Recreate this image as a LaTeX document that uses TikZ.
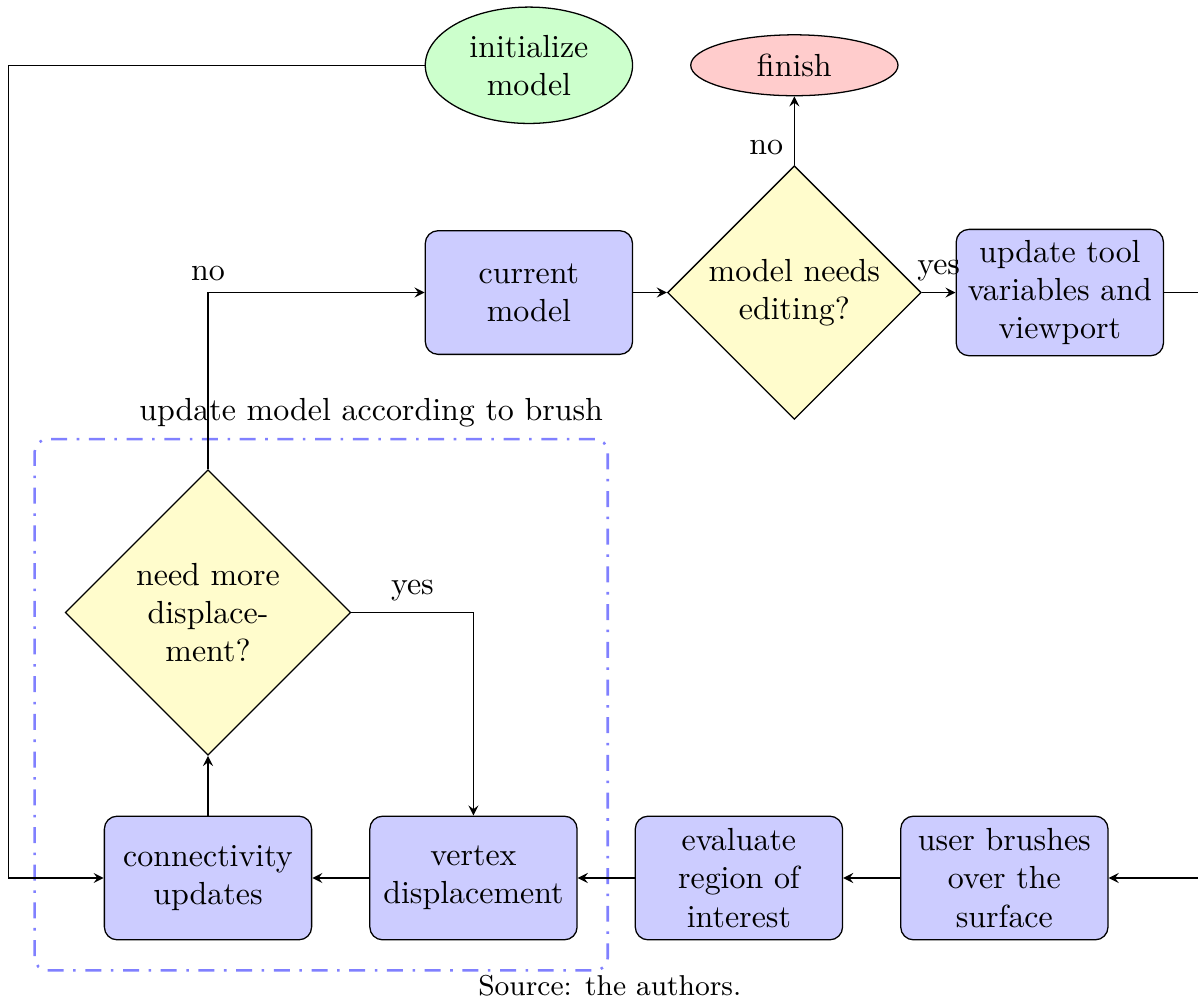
\documentclass[tikz,border=0pt]{standalone}
\usepackage{tikz}
\usetikzlibrary{shapes.geometric, positioning, fit}
\tikzset{
	block/.style={draw, rectangle, rounded corners, align=center, text width=2.04cm, minimum width=2.28cm, minimum height=1.36cm, fill=blue!20},
	decision/.style={draw, diamond, aspect=1, align=center, inner sep=0pt, fill=yellow!20},
	terminal/.style={draw, ellipse, align=center, inner sep=0pt, minimum width=2.28cm},
	% dash-dotted frame round the inner loop
	group/.style={draw=blue!50, thick, rounded corners, dash pattern=on 5pt off 3pt on 0.8pt off 3pt, inner sep=0.33cm},
}

\begin{document}
\begin{tikzpicture}[node distance=2.92cm]
	\useasboundingbox (-2.288,-1.32) rectangle (10.89,9.658);
	\clip (-2.288,-1.32) rectangle (10.89,9.658);
	
	\node (conn) [block] {connectivity\\updates};
	\node (vert) [block, right of=conn] {vertex\\displacement};
	\node (eval) [block, right of=vert] {evaluate\\region of\\interest};
	\node (brush) [block, right of=eval] {user brushes\\over the\\surface};
	
	\node (disp) [decision, above of=conn, minimum size=3.14cm] {need more\\displace-\\ment?};
	
	\node (cur) [block, right of=disp, xshift=0.61cm, yshift=3.52cm] {current\\model};
	\node (edit) [decision, right of=cur, minimum size=2.79cm] {model needs\\editing?};
	\node (upd) [block, right of=edit] {update tool\\variables and\\viewport};
	
	\node (fin) [terminal, above of=edit, yshift=-0.42cm, minimum height=0.67cm, fill=red!20] {finish};
	\node (init) [terminal, left of=fin, minimum height=1.28cm, fill=green!20] {initialize\\model};
	
	\node (brushgroup) [group, fit=(disp)(conn)(vert), label={[xshift=0.55cm]above:update model according to brush}] {};
	
	\node (src) [below of=vert, xshift=1.5cm, yshift=1.74cm, font=\small] {Source: the authors.};
	
	\begin{scope}[->, >=stealth]
		\draw (init.west) -- ++(-4.58,0) |- (conn.west);
		\draw (cur) -- (edit);
		\draw (edit) -- (fin) node [near start, left] {no};
		\draw (edit) -- (upd) node [midway, above] {yes};
		\draw (upd.east) -- ++(1,0) |- (brush.east);
		\draw (brush) -- (eval);
		\draw (eval) -- (vert);
		\draw (vert) -- (conn);
		\draw (conn) -- (disp);
		\draw (disp.east) -| (vert.north) node [pos=0.25, above] {yes};
		\draw (disp.north) |- (cur.west) node [pos=0.5, above] {no};
	\end{scope}
	
\end{tikzpicture}
\end{document}
